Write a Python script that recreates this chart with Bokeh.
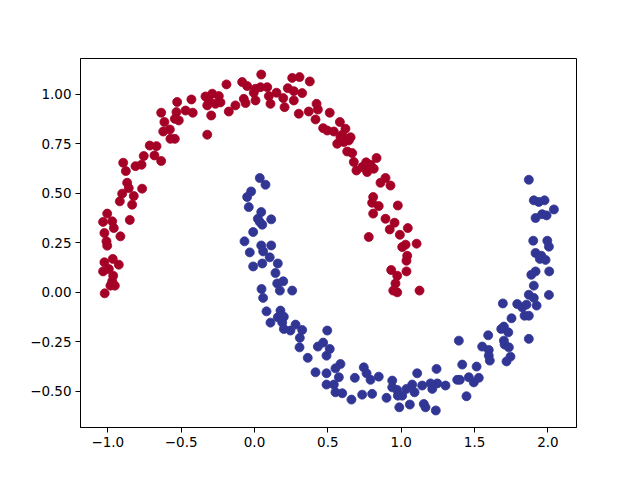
from bokeh.plotting import figure
from bokeh.models import Range1d, FixedTicker
from bokeh.embed import file_html
from bokeh.resources import INLINE

# Upper moon (class 0)
red_x = [-0.527, -0.430, -0.636, -0.532, -0.470, -0.421, -0.516, -0.543, -0.614, -0.577,
         -0.622, -0.573, -0.543, -0.322, -0.334, -0.714, -0.668, -0.755, -0.682, -0.636,
         -0.895, -0.877, -0.811, -0.770, -0.868, -0.857, -0.766, -0.902, -0.823, -0.918,
         -0.834, -1.004, -0.970, -1.032, -0.850, -0.959, -1.023, -0.914, -1.009, -1.004,
         -1.023, -0.966, -0.925, -1.032, -0.993, -0.963, -0.970, -0.952, -0.982, -1.021,
         0.046, 0.257, 0.307, 0.377, -0.191, -0.084, -0.050, 0.007, 0.041, 0.087,
         0.227, 0.268, 0.325, -0.288, -0.243, -0.312, -0.266, -0.322, -0.295, -0.130,
         -0.175, -0.073, -0.061, -0.005, 0.007, 0.098, 0.150, 0.109, 0.196, 0.205,
         0.268, 0.302, 0.370, 0.423, 0.432, 0.416, 0.468, 0.496, 0.513, -0.232,
         0.582, 0.541, 0.620, 0.586, 0.643, 0.564, 0.609, 0.632, 0.666, 0.677,
         0.695, 0.734, 0.768, 0.791, 0.832, 0.813, 0.893, 0.859, 0.927, 0.809,
         0.802, 0.847, 0.977, 0.809, 0.893, 0.955, 0.922, 0.991, 1.045, 0.779,
         1.030, 1.007, 1.105, 1.041, 1.036, 0.932, 1.036, 0.973, 0.961, 0.946,
         0.973, 1.125, 0.598, 0.655, 0.761]
red_y = [0.961, 0.974, 0.907, 0.910, 0.918, 0.907, 0.868, 0.876, 0.860, 0.822,
         0.812, 0.775, 0.775, 0.796, 0.989, 0.741, 0.738, 0.688, 0.691, 0.663,
         0.654, 0.612, 0.637, 0.644, 0.553, 0.526, 0.523, 0.498, 0.486, 0.459,
         0.442, 0.397, 0.358, 0.355, 0.365, 0.324, 0.299, 0.282, 0.257, 0.235,
         0.151, 0.168, 0.139, 0.105, 0.117, 0.083, 0.055, 0.033, 0.033, -0.006,
         1.100, 1.083, 1.087, 1.065, 1.050, 1.062, 1.042, 1.028, 1.036, 1.036,
         1.031, 1.016, 1.006, 1.003, 0.991, 0.969, 0.952, 0.944, 0.893, 0.944,
         0.913, 0.977, 0.956, 1.008, 0.969, 0.991, 1.008, 0.952, 0.981, 0.935,
         0.969, 0.902, 0.913, 0.952, 0.923, 0.873, 0.829, 0.817, 0.907, 0.959,
         0.860, 0.812, 0.826, 0.784, 0.767, 0.750, 0.759, 0.711, 0.703, 0.658,
         0.615, 0.632, 0.607, 0.644, 0.678, 0.624, 0.577, 0.553, 0.539, 0.481,
         0.452, 0.435, 0.438, 0.397, 0.371, 0.351, 0.317, 0.290, 0.324, 0.279,
         0.240, 0.228, 0.245, 0.184, 0.159, 0.112, 0.105, 0.083, 0.044, 0.008,
         -0.001, 0.008, 0.795, 0.783, 0.656]

# Lower moon (class 1)
blue_x = [0.036, 0.075, -0.023, -0.050, -0.039, 0.046, 0.023, 0.114, 0.053, -0.009,
          -0.068, 0.046, 0.114, -0.032, 0.059, -0.009, 0.053, 0.104, 0.159, 0.143,
          0.155, 0.196, 0.173, 0.257, 0.048, 0.059, 0.082, 0.109, 0.177, 0.159,
          0.200, 0.189, 0.200, 0.245, 0.280, 0.325, 0.309, 0.307, 0.363, 0.416,
          0.432, 0.468, 0.496, 0.491, 0.513, 0.491, 0.491, 0.586, 0.552, 0.575,
          0.541, 0.552, 0.598, 0.661, 0.684, 0.745, 0.764, 0.791, 0.847, 0.734,
          0.802, 0.900, 0.939, 0.939, 0.973, 0.977, 1.007, 0.987, 1.036, 1.075,
          1.091, 1.059, 1.109, 1.143, 1.154, 1.166, 1.200, 1.212, 1.241, 1.246,
          1.236, 1.302, 1.900, 2.007, 1.996, 1.916, 1.955, 1.945, 1.984, 1.916,
          1.887, 2.009, 1.904, 1.870, 1.904, 2.007, 1.693, 1.791, 1.825, 1.854,
          1.923, 1.841, 1.870, 1.752, 1.682, 1.700, 1.730, 1.593, 1.870, 1.393,
          1.552, 1.597, 1.700, 1.705, 1.734, 1.597, 1.604, 1.745, 1.718, 1.416,
          1.514, 1.382, 1.400, 1.461, 1.495, 1.529, 1.445, 1.870, 1.904, 1.977,
          1.938, 2.041, 1.991, 1.916, 1.961, 0.036]
blue_y = [0.577, 0.543, 0.509, 0.481, 0.430, 0.405, 0.371, 0.368, 0.341, 0.304,
          0.257, 0.236, 0.236, 0.201, 0.206, 0.130, 0.145, 0.176, 0.145, 0.097,
          0.044, 0.055, 0.008, 0.008, 0.016, -0.029, -0.097, -0.154, -0.093, -0.127,
          -0.124, -0.153, -0.186, -0.194, -0.164, -0.191, -0.231, -0.279, -0.332, -0.405,
          -0.275, -0.255, -0.194, -0.321, -0.287, -0.410, -0.467, -0.363, -0.385, -0.430,
          -0.467, -0.506, -0.511, -0.543, -0.433, -0.380, -0.410, -0.443, -0.427, -0.518,
          -0.514, -0.534, -0.447, -0.481, -0.494, -0.523, -0.523, -0.582, -0.489, -0.467,
          -0.506, -0.568, -0.410, -0.472, -0.565, -0.582, -0.461, -0.489, -0.388, -0.461,
          -0.598, -0.472, 0.260, 0.230, 0.260, 0.198, 0.184, 0.168, 0.163, 0.105,
          0.088, 0.105, 0.033, -0.013, -0.029, -0.014, -0.057, -0.060, -0.077, -0.063,
          -0.068, -0.119, -0.119, -0.132, -0.186, -0.174, -0.203, -0.218, -0.236, -0.245,
          -0.275, -0.292, -0.245, -0.265, -0.279, -0.321, -0.346, -0.326, -0.350, -0.366,
          -0.376, -0.443, -0.443, -0.430, -0.456, -0.433, -0.526, 0.568, 0.464, 0.464,
          0.456, 0.418, 0.388, 0.375, 0.394, 0.355]

x_ticks = [-1.0, -0.5, 0.0, 0.5, 1.0, 1.5, 2.0]
x_tick_labels = ["\u22121.0", "\u22120.5", "0.0", "0.5", "1.0", "1.5", "2.0"]
y_ticks = [-0.5, -0.25, 0.0, 0.25, 0.5, 0.75, 1.0]
y_tick_labels = ["\u22120.50", "\u22120.25", "0.00", "0.25", "0.50", "0.75", "1.00"]

RED = "#a50026"
BLUE = "#313695"

p = figure(frame_width=496, frame_height=369, output_backend="svg", toolbar_location=None,
           x_range=Range1d(-1.186, 2.195), y_range=Range1d(-0.684, 1.181),
           min_border_left=80, min_border_right=64, min_border_top=58, min_border_bottom=53)
p.background_fill_color = "white"
p.border_fill_color = "white"
p.outline_line_color = "black"
p.outline_line_width = 1
p.xgrid.visible = False
p.ygrid.visible = False

p.scatter(red_x, red_y, size=9, fill_color=RED, line_color=RED, line_width=0.8)
p.scatter(blue_x, blue_y, size=9, fill_color=BLUE, line_color=BLUE, line_width=0.8)

for ax, ticks, labels in ((p.xaxis[0], x_ticks, x_tick_labels), (p.yaxis[0], y_ticks, y_tick_labels)):
    ax.ticker = FixedTicker(ticks=ticks)
    ax.major_label_overrides = {t: l for t, l in zip(ticks, labels)}
    ax.minor_tick_line_color = None
    ax.major_tick_in = 0
    ax.major_tick_out = 5
    ax.major_tick_line_color = "black"
    ax.axis_line_color = "black"
    ax.major_label_text_font = "DejaVu Sans"
    ax.major_label_text_font_size = "13.5px"
    ax.major_label_text_color = "black"
    ax.major_label_standoff = 4

out = file_html(p, INLINE)
open("out.html", "w").write(out)
